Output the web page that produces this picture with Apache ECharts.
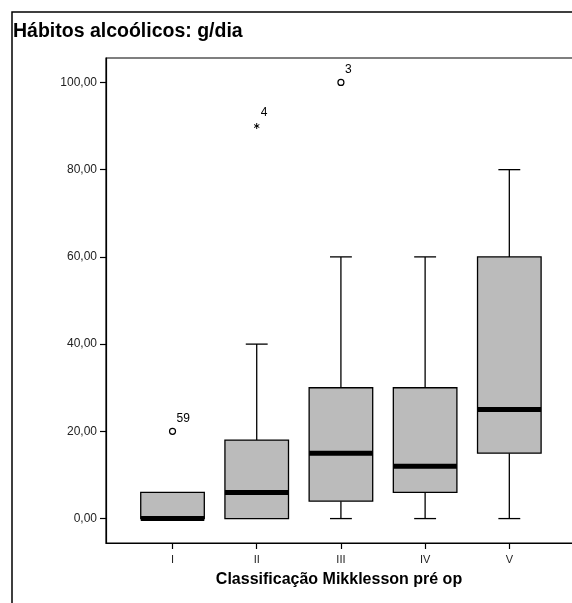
<!DOCTYPE html>
<html>
<head>
<meta charset="utf-8">
<script src="https://cdn.jsdelivr.net/npm/echarts@6/dist/echarts.min.js"></script>
<style>html,body{margin:0;padding:0;background:#fff}#c{width:572px;height:603px}</style>
</head>
<body>
<div id="c"></div>
<script>
// ---- data ----
var categories = ['I', 'II', 'III', 'IV', 'V'];
var whiskerLow = [0, 0, 0, 0, 0];
var q1 = [0, 0, 4, 6, 15];
var median = [0, 6, 15, 12, 25];
var q3 = [6, 18, 30, 30, 60];
var whiskerHigh = [6, 40, 60, 60, 80];
var outlierCategory = [1, 2, 3];          // 1-based category position
var outlierValue = [20, 90, 100];
var outlierId = ['59', '4', '3'];
var outlierType = ['circle', 'star', 'circle'];
var yTicks = [0, 20, 40, 60, 80, 100];
var xTicks = [1, 2, 3, 4, 5];

var chart = echarts.init(document.getElementById('c'), null, {renderer: 'canvas'});

var boxData = categories.map(function (c, k) {
  return [k + 1, whiskerLow[k], q1[k], median[k], q3[k], whiskerHigh[k]];
});
var outData = outlierValue.map(function (v, k) {
  return [outlierCategory[k], v, k];
});

var FONT = '"Liberation Sans", Arial, sans-serif';

function renderBox(params, api) {
  var pos = api.value(0);
  var band = api.size([1, 0])[0];
  var bw = band * 0.755, cw = band * 0.26;
  var cx = api.coord([pos, 0])[0];
  var yLo = api.coord([pos, api.value(1)])[1];
  var yQ1 = api.coord([pos, api.value(2)])[1];
  var yMed = api.coord([pos, api.value(3)])[1];
  var yQ3 = api.coord([pos, api.value(4)])[1];
  var yHi = api.coord([pos, api.value(5)])[1];
  var ls = {stroke: '#000', lineWidth: 1.3};
  var ch = [];
  if (Math.abs(yHi - yQ3) > 0.5) {
    ch.push({type: 'line', shape: {x1: cx, y1: yHi, x2: cx, y2: yQ3}, style: ls});
    ch.push({type: 'line', shape: {x1: cx - cw / 2, y1: yHi, x2: cx + cw / 2, y2: yHi}, style: ls});
  }
  if (Math.abs(yLo - yQ1) > 0.5) {
    ch.push({type: 'line', shape: {x1: cx, y1: yQ1, x2: cx, y2: yLo}, style: ls});
    ch.push({type: 'line', shape: {x1: cx - cw / 2, y1: yLo, x2: cx + cw / 2, y2: yLo}, style: ls});
  }
  ch.push({type: 'rect', shape: {x: cx - bw / 2, y: yQ3, width: bw, height: yQ1 - yQ3},
    style: {fill: '#bbbbbb', stroke: '#000', lineWidth: 1.3}});
  ch.push({type: 'rect', shape: {x: cx - bw / 2, y: yMed - 2.5, width: bw, height: 5},
    style: {fill: '#000'}});
  return {type: 'group', children: ch};
}

function renderOutlier(params, api) {
  var p = api.coord([api.value(0), api.value(1)]);
  var k = api.value(2);
  var ch = [];
  if (outlierType[k] === 'circle') {
    ch.push({type: 'circle', shape: {cx: p[0], cy: p[1], r: 3},
      style: {fill: '#fff', stroke: '#000', lineWidth: 1.2}});
  } else {
    var s = {stroke: '#000', lineWidth: 1};
    ch.push({type: 'line', shape: {x1: p[0], y1: p[1] - 3, x2: p[0], y2: p[1] + 3}, style: s});
    ch.push({type: 'line', shape: {x1: p[0] - 2.6, y1: p[1] - 1.5, x2: p[0] + 2.6, y2: p[1] + 1.5}, style: s});
    ch.push({type: 'line', shape: {x1: p[0] - 2.6, y1: p[1] + 1.5, x2: p[0] + 2.6, y2: p[1] - 1.5}, style: s});
  }
  ch.push({type: 'text', x: p[0] + 4, y: p[1] - 13,
    style: {text: outlierId[k], fill: '#000', font: '12px ' + FONT, textAlign: 'left', textVerticalAlign: 'middle'}});
  return {type: 'group', children: ch};
}

var option = {
  backgroundColor: '#fff',
  animation: false,
  graphic: [
    {type: 'rect', shape: {x: 12, y: 12, width: 620, height: 620},
      style: {fill: 'none', stroke: '#000', lineWidth: 1.5}, silent: true},
    {type: 'text', x: 13, y: 32,
      style: {text: 'Hábitos alcoólicos: g/dia', fill: '#000', font: 'bold 19.5px ' + FONT,
        textAlign: 'left', textVerticalAlign: 'middle'}}
  ],
  grid: {left: 106, top: 58, right: -12, bottom: 60, show: true, borderColor: '#000', borderWidth: 1.2,
    backgroundColor: 'transparent', outerBoundsMode: 'none', containLabel: false},
  xAxis: {
    type: 'value', min: 0.21, max: 0.21 + 478 / 84.2,
    name: 'Classificação Mikklesson pré op', nameLocation: 'middle', nameGap: 29,
    nameTextStyle: {fontFamily: FONT, fontWeight: 'bold', fontSize: 16, color: '#000', padding: [0, 12, 0, 0]},
    axisLine: {show: true, onZero: false, lineStyle: {color: '#000', width: 1.2}},
    axisTick: {show: true, customValues: xTicks, length: 6, lineStyle: {color: '#000', width: 1.2}},
    axisLabel: {customValues: xTicks, margin: 11, fontFamily: FONT, fontSize: 11, color: '#222',
      formatter: function (v) { return categories[Math.round(v) - 1] || ''; }},
    splitLine: {show: false}
  },
  yAxis: {
    type: 'value', min: -5.6, max: 105.6,
    axisLine: {show: true, onZero: false, lineStyle: {color: '#000', width: 1.2}},
    axisTick: {show: true, customValues: yTicks, length: 6, lineStyle: {color: '#000', width: 1.2}},
    axisLabel: {customValues: yTicks, margin: 9, fontFamily: FONT, fontSize: 12, color: '#222',
      formatter: function (v) { return v.toFixed(2).replace('.', ','); }},
    splitLine: {show: false}
  },
  series: [
    {type: 'custom', renderItem: renderBox, data: boxData, encode: {x: 0, y: [1, 2, 3, 4, 5]}, clip: false},
    {type: 'custom', renderItem: renderOutlier, data: outData, encode: {x: 0, y: 1}, clip: false}
  ]
};
chart.setOption(option);
</script>
</body>
</html>
